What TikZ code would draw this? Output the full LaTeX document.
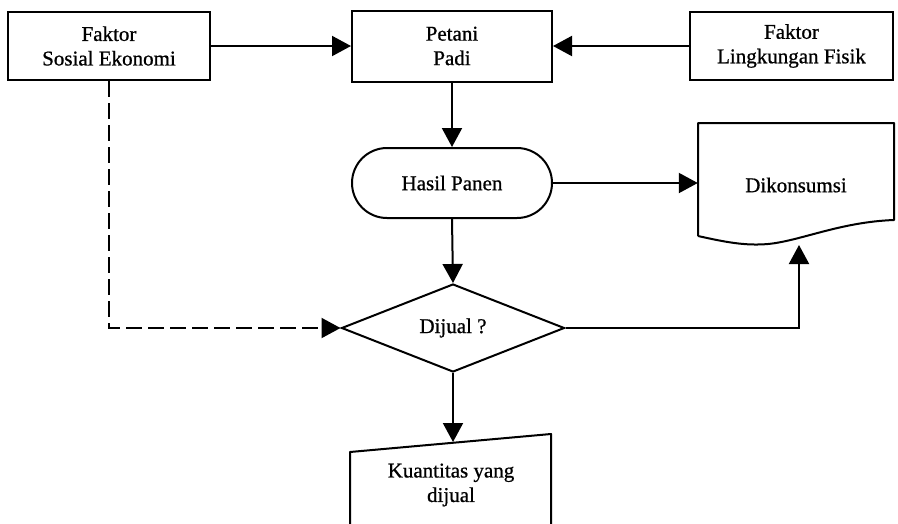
\documentclass[tikz,border=0pt]{standalone}
\usepackage{fontspec}
\setmainfont{Liberation Serif}[BoldFont=Liberation Serif, BoldFeatures={FakeBold=0.8}]
\usetikzlibrary{arrows.meta,shapes.geometric,shapes.misc}
\begin{document}
\begin{tikzpicture}[x=1pt,y=-1pt,
  every node/.style={font=\fontsize{21}{24.5}\selectfont\bfseries, align=center, inner sep=0pt},
  line/.style={line width=2pt},
  conn/.style={line width=2pt, -{Triangle[length=19pt,width=20pt]}},
  boxstyle/.style={draw, line width=2pt, rectangle, minimum height=68pt},
]
\useasboundingbox (0,0) rectangle (898,523);
\fill[white] (0,0) rectangle (898,523);

% top boxes
\node[boxstyle, minimum width=202pt] (sos) at (109,46) {Faktor\\Sosial Ekonomi};
\node[boxstyle, minimum width=200pt, minimum height=71pt] (pet) at (452,46) {Petani\\Padi};
\node[boxstyle, minimum width=203pt] (lin) at (791.5,46) {Faktor\\Lingkungan Fisik};

% terminal
\node[draw, line width=2pt, rounded rectangle, minimum width=200pt, minimum height=70pt] (has) at (452,183) {Hasil Panen};

% decision
\node[draw, line width=2pt, diamond, aspect=2.5, minimum width=223pt, minimum height=88pt] (dij) at (453,328) {Dijual ?};

% document shape
\draw[line, line join=round] (698,236) -- (698,123) -- (894,123) -- (894,220)
  .. controls (840,222) and (800,241) .. (768,244)
  .. controls (745,246) and (725,242) .. (698,236);
\node[minimum width=196pt] (dok) at (796,185) {Dikonsumsi};
\coordinate (dokb) at (799,245);

% manual input shape
\draw[line, line join=round] (350,530) -- (350,452) -- (551,434) -- (551,530);
\node (kua) at (451,485) {Kuantitas yang\\dijual};
\coordinate (kuat) at (453,442);

% connectors
\draw[conn] (sos.east) -- (pet.west);
\draw[conn] (lin.west) -- (pet.east);
\draw[conn] (pet.south) -- (has.north);
\draw[conn] (has.east) -- (has.east -| dok.west);
\draw[conn] (has.south) -- (dij.north);
\draw[conn] (dij.east) -| (dokb);
\draw[conn] (dij.south) -- (kuat);
\draw[conn, dash pattern=on 16pt off 6pt] (sos.south) |- (dij.west);
\end{tikzpicture}
\end{document}
